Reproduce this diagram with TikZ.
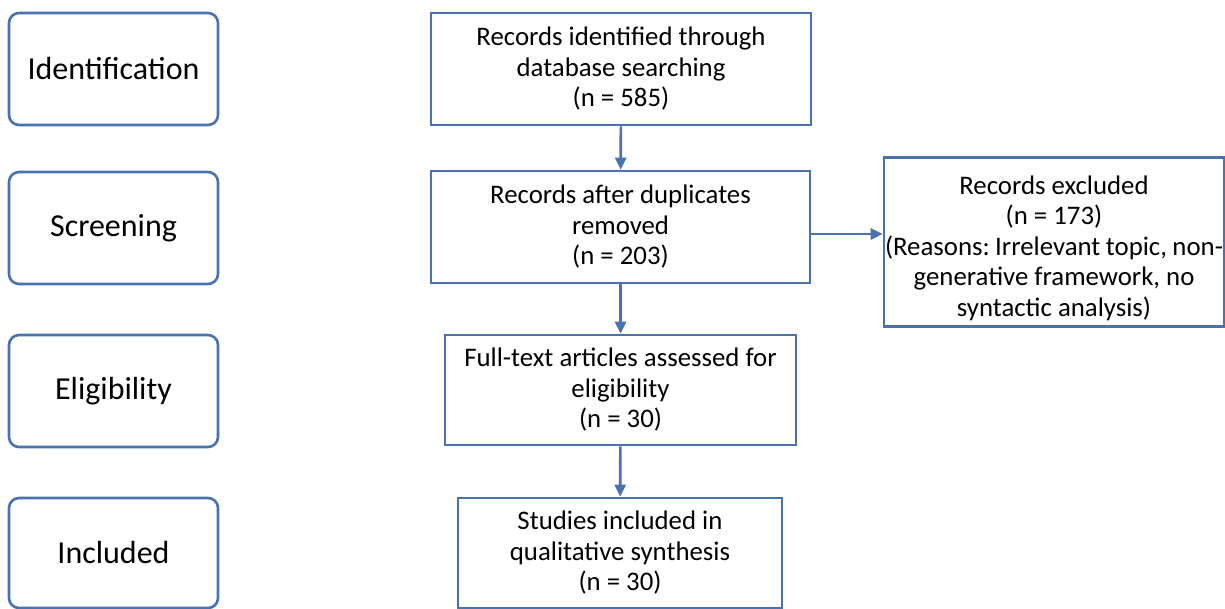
\documentclass[tikz,border=0pt]{standalone}
\usepackage{fontspec}
\setmainfont{Carlito}
\frenchspacing
\usetikzlibrary{arrows.meta}
\definecolor{prismablue}{RGB}{74,114,176}

\begin{document}
\begin{tikzpicture}[x=1pt, y=-1pt,
    etapa/.style={draw=prismablue, line width=2.6pt, rounded corners=10pt,
      minimum width=209pt, minimum height=112pt, inner sep=0pt,
      font=\fontsize{32}{36}\selectfont},
    caja/.style={draw=prismablue, line width=2.6pt, align=center, inner sep=0pt,
      font=\fontsize{26.8}{30.5}\selectfont},
    flecha/.style={draw=prismablue, line width=2.6pt, -{Triangle[length=12pt, width=11pt]}}]
    \useasboundingbox (0, 0) rectangle (1225, 609);

    % Etapas a la izquierda
    \node[etapa] (ident) at (113.5, 69) {Identification};
    \node[etapa] (cribado) at (113.5, 228) {Screening};
    \node[etapa] (elegib) at (113.5, 391) {Eligibility};
    \node[etapa, minimum height=110pt] (incluidos) at (113.5, 553) {Included};

    % Cajas centrales
    \node[caja, minimum width=380pt, minimum height=112pt] (registros) at (621, 69)
      {Records identified through\\database searching\\(n = 585)};
    \node[caja, minimum width=379pt, minimum height=112pt] (duplicados) at (620.5, 227)
      {Records after duplicates\\removed\\(n = 203)};
    \node[caja, minimum width=351pt, minimum height=110pt] (articulos) at (620.5, 390)
      {Full-text articles assessed for\\eligibility\\(n = 30)};
    \node[caja, minimum width=324pt, minimum height=110pt] (estudios) at (620, 553)
      {Studies included in\\qualitative synthesis\\(n = 30)};

    % Caja de excluidos
    \node[caja, minimum width=340pt, minimum height=169pt] (excluidos) at (1054, 242)
      {\raisebox{-6pt}[\height][\depth]{\parbox{338pt}{\centering Records excluded\\(n = 173)\\(Reasons: Irrelevant topic, non-\\generative framework, no\\syntactic analysis)}}};

    % Flechas
    \draw[flecha] (registros) -- (duplicados);
    \draw[flecha] (duplicados) -- (articulos);
    \draw[flecha] (articulos) -- (estudios);
    \draw[flecha] ([yshift=-7pt]duplicados.east) -- ([yshift=-7pt]duplicados.east -| excluidos.west);
  \end{tikzpicture}
\end{document}
